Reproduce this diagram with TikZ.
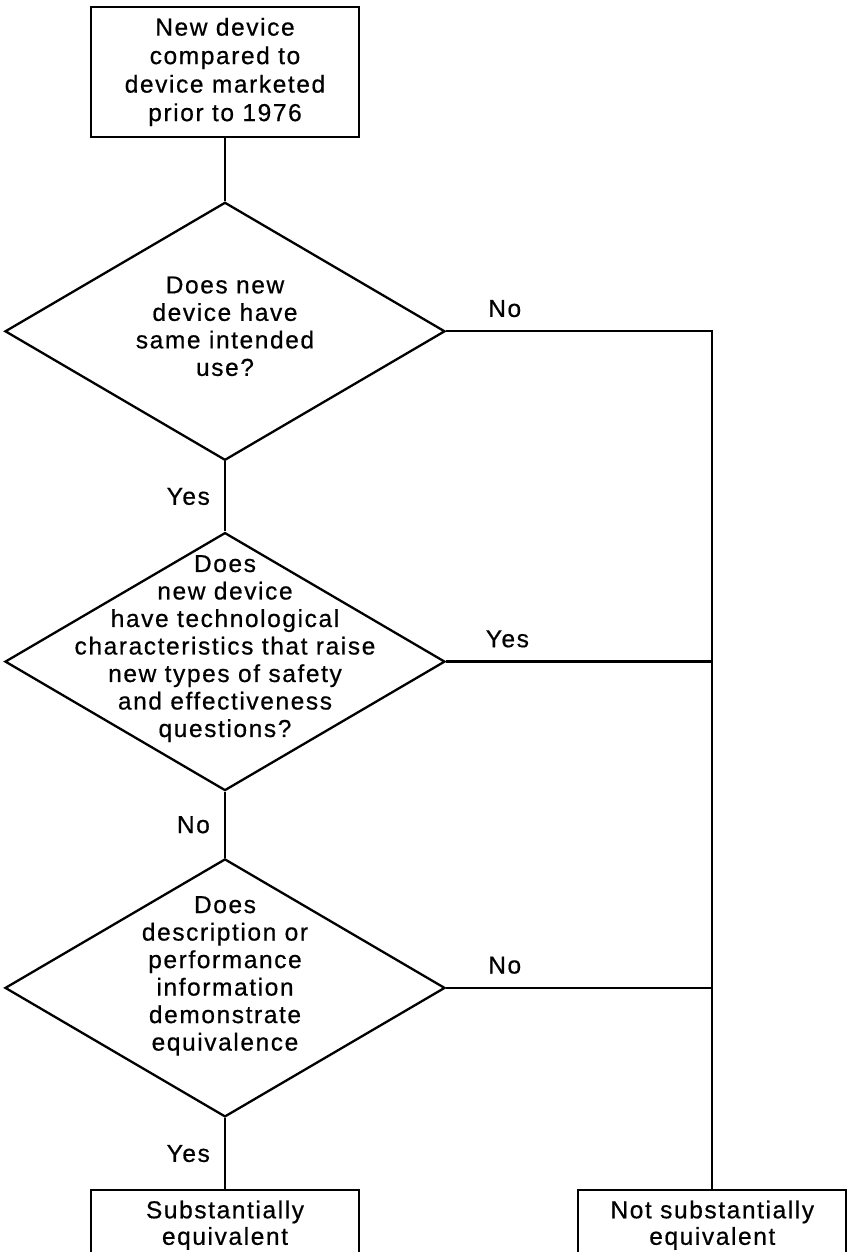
\documentclass[tikz,border=0pt]{standalone}
\usepackage{fontspec}
\setmainfont{Liberation Sans}[LetterSpace=6.5, FakeBold=0.6]
\usetikzlibrary{shapes.geometric, positioning, calc}
\tikzset{
    block_top/.style={rectangle, draw, line width=2.3pt, minimum width=268pt, minimum height=130pt, align=center, font=\fontsize{24.5}{28.5}\selectfont},
    block_end/.style={rectangle, draw, line width=2.3pt, minimum width=268pt, minimum height=70pt, align=center, font=\fontsize{24.5}{26.5}\selectfont},
    decision/.style={diamond, draw, line width=2.3pt, inner sep=0pt, minimum width=440pt, minimum height=258pt},
    qtext/.style={align=center, inner sep=0pt, font=\fontsize{24.5}{27.5}\selectfont},
    tag/.style={inner sep=0pt, font=\fontsize{24.5}{27.5}\selectfont},
    line/.style={line width=2.3pt}
}
\begin{document}
\begin{tikzpicture}[x=1pt, y=-1pt]
			\useasboundingbox (0,0) rectangle (847,1252);
			\node (start) [block_top] at (225,72) {New device\\compared to\\device marketed\\prior to 1976};
			\node (q1) [decision, below=63pt of start, label={[qtext, yshift=5pt]center:{Does new\\device have\\same intended\\use?}}] {};
			\node (q2) [decision, below=70pt of q1, label={[qtext, yshift=13pt]center:{Does\\new device\\have technological\\characteristics that raise\\new types of safety\\and effectiveness\\questions?}}] {};
			\node (q3) [decision, below=66pt of q2, label={[qtext, yshift=12pt]center:{Does\\description or\\performance\\information\\demonstrate\\equivalence}}] {};
			\node (ysub) [block_end, below=71pt of q3] {Substantially\\equivalent};
			\node (nsub) [block_end, right=217pt of ysub] {Not substantially\\equivalent};

			\draw [line] (start) -- (q1);
			\draw [line] (q1) -- node [tag, left=14pt] (yes1) {Yes} (q2);
			\draw [line] (q2) -- node [tag, left=14pt] (no2) {No} (q3);
			\draw [line] (q3) -- node [tag, left=14pt] (yes3) {Yes} (ysub);
			\draw [line] (q1.east) -- node [tag, pos=0.22, above=13pt] (no1) {No} (q1.east -| nsub.north) -- (nsub.north);
			\draw [line] (q2.east) -- node [tag, pos=0.23, above=13pt] (yes2) {Yes} (q2.east -| nsub.north);
			\draw [line] (q3.east) -- node [tag, pos=0.22, above=13pt] (no3) {No} (q3.east -| nsub.north);
		\end{tikzpicture}
\end{document}
